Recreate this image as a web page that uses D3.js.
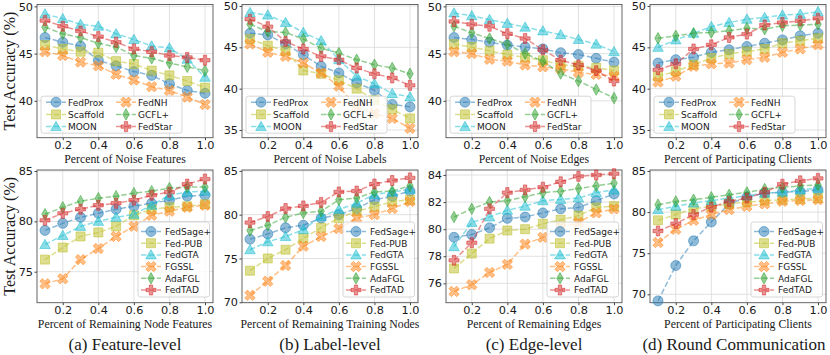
<!DOCTYPE html>
<html lang="en">
<head>
<meta charset="UTF-8" />
<title>Robustness curves</title>
<script src="https://d3js.org/d3.v7.js"></script>
<style>
  body { margin: 0; background: #fff; }
  svg { display: block; }
</style>
</head>
<body>
<svg id="chart" width="830" height="355"></svg>
<script>
// ---- data ----
const xVals = [0.1, 0.2, 0.3, 0.4, 0.5, 0.6, 0.7, 0.8, 0.9, 1.0];
const xTicks = [0.2, 0.4, 0.6, 0.8, 1.0];

const topMethods = ["FedProx", "Scaffold", "MOON", "FedNH", "GCFL+", "FedStar"];
const bottomMethods = ["FedSage+", "Fed-PUB", "FedGTA", "FGSSL", "AdaFGL", "FedTAD"];

// rows follow the method order above
const noiseFeatures = [
  [46.7, 46.2, 45.8, 44.3, 43.7, 43.1, 42.7, 41.8, 41.1, 40.8],
  [45.9, 45.5, 45.2, 45.1, 44.2, 43.9, 43.2, 42.7, 42.1, 41.4],
  [49.2, 48.7, 48.1, 47.9, 47.1, 46.5, 45.8, 45.6, 44.4, 42.5],
  [45.2, 44.8, 44.1, 43.7, 42.8, 42.2, 41.5, 41.1, 40.4, 39.6],
  [47.8, 47.1, 46.7, 46.1, 45.7, 44.8, 44.5, 44.0, 43.6, 43.2],
  [48.5, 47.9, 47.4, 46.8, 46.2, 45.5, 45.2, 44.8, 44.6, 44.3]
];
const noiseLabels = [
  [46.7, 46.5, 45.4, 44.1, 42.7, 41.9, 40.7, 39.8, 38.1, 37.8],
  [46.0, 45.2, 44.6, 42.2, 41.8, 41.0, 40.0, 38.6, 37.5, 36.4],
  [49.2, 48.9, 48.0, 46.8, 45.8, 43.5, 41.5, 40.6, 39.4, 39.0],
  [45.4, 44.4, 43.9, 43.1, 41.9, 40.3, 37.7, 37.0, 36.4, 35.2],
  [47.8, 46.9, 46.8, 46.0, 44.9, 44.3, 43.5, 42.9, 42.5, 41.8],
  [48.4, 47.5, 45.7, 44.8, 43.9, 43.5, 42.5, 41.8, 41.3, 40.4]
];
const noiseEdges = [
  [46.7, 46.5, 46.2, 45.9, 45.7, 45.5, 45.1, 44.9, 44.5, 44.1],
  [46.0, 45.7, 45.3, 44.9, 44.6, 44.3, 43.8, 43.7, 43.5, 43.2],
  [49.3, 49.0, 48.6, 48.2, 47.8, 47.4, 47.0, 46.5, 46.0, 45.2],
  [45.2, 45.0, 44.4, 44.2, 43.8, 43.6, 43.4, 43.0, 42.8, 42.6],
  [47.9, 47.2, 46.6, 46.0, 45.0, 44.2, 42.9, 42.1, 41.2, 40.3],
  [48.4, 48.1, 47.9, 47.1, 46.6, 45.4, 44.3, 43.8, 43.2, 42.1]
];
const noiseClients = [
  [43.1, 43.5, 43.8, 44.4, 44.7, 45.1, 45.5, 45.9, 46.4, 46.7],
  [41.5, 42.1, 42.9, 43.7, 44.2, 44.5, 44.8, 45.5, 45.8, 46.1],
  [45.0, 45.9, 46.7, 47.5, 48.0, 48.4, 48.6, 48.9, 49.0, 49.3],
  [40.8, 41.5, 42.7, 43.0, 43.1, 43.5, 43.8, 44.4, 44.8, 45.3],
  [46.1, 46.4, 46.7, 46.8, 47.0, 47.3, 47.2, 47.6, 47.7, 47.8],
  [42.3, 43.0, 44.8, 45.3, 46.2, 46.6, 47.7, 48.0, 48.2, 48.5]
];
const featureLevel = [
  [79.1, 79.8, 80.4, 80.8, 81.2, 81.5, 81.8, 82.1, 82.5, 82.6],
  [76.2, 77.4, 78.5, 78.9, 79.5, 80.6, 81.2, 81.4, 81.5, 81.7],
  [77.7, 78.6, 79.5, 80.0, 80.4, 80.7, 81.6, 82.6, 82.9, 83.0],
  [73.8, 74.3, 76.2, 77.3, 78.5, 79.5, 80.6, 81.0, 81.4, 81.6],
  [80.7, 81.4, 82.0, 82.3, 82.5, 82.8, 83.0, 83.3, 83.4, 83.4],
  [80.1, 80.8, 81.2, 81.6, 81.8, 82.1, 82.6, 82.9, 83.7, 84.2]
];
const labelLevel = [
  [77.2, 77.8, 78.5, 78.8, 79.6, 80.0, 80.7, 81.7, 82.1, 82.7],
  [73.6, 75.0, 76.0, 77.3, 78.5, 79.6, 80.4, 80.9, 81.5, 81.7],
  [76.0, 76.9, 77.5, 78.3, 79.8, 80.6, 81.3, 82.3, 82.6, 82.9],
  [70.8, 72.4, 74.2, 76.4, 77.5, 78.4, 79.6, 80.0, 80.7, 81.5],
  [78.2, 78.8, 79.7, 80.2, 80.4, 81.7, 81.9, 82.6, 82.7, 83.3],
  [79.1, 79.8, 80.7, 81.0, 81.4, 82.6, 82.7, 83.5, 83.9, 84.2]
];
const edgeLevel = [
  [79.4, 79.6, 80.1, 80.8, 80.9, 81.2, 81.5, 81.6, 82.1, 82.6],
  [77.1, 78.2, 79.3, 79.9, 80.0, 80.4, 80.7, 81.0, 81.6, 81.7],
  [78.7, 80.5, 80.9, 81.4, 81.7, 82.1, 82.2, 82.3, 82.7, 82.9],
  [75.4, 75.9, 76.8, 77.4, 78.9, 79.4, 80.1, 80.5, 81.2, 81.5],
  [80.9, 81.5, 82.0, 82.1, 82.4, 82.7, 82.8, 83.0, 83.2, 83.4],
  [77.7, 79.0, 81.5, 82.7, 82.9, 83.1, 83.5, 83.9, 84.0, 84.1]
];
const roundComm = [
  [69.2, 73.5, 76.5, 78.8, 81.0, 81.8, 82.3, 82.4, 82.5, 82.7],
  [79.0, 79.7, 80.4, 80.7, 81.0, 81.2, 81.4, 81.5, 81.6, 81.7],
  [80.3, 80.7, 81.1, 81.4, 81.7, 82.0, 82.3, 82.4, 82.7, 82.9],
  [76.3, 77.9, 79.0, 79.7, 80.3, 80.7, 81.0, 81.3, 81.4, 81.5],
  [80.9, 81.3, 81.5, 81.8, 82.1, 82.4, 82.8, 83.0, 83.2, 83.3],
  [77.7, 78.6, 79.7, 80.6, 81.3, 81.7, 82.4, 83.4, 83.8, 84.1]
];

const captions = ["(a) Feature-level", "(b) Label-level", "(c) Edge-level", "(d) Round Communication"];

// ---- styling ----
const colors = ["#1f77b4", "#bcbd22", "#17becf", "#ff7f0e", "#2ca02c", "#d62728"];
const markers = ["circle", "square", "triangle", "xfilled", "thindiamond", "plusfilled"];
const alpha = 0.5;
const ms = 10;

const svg = d3.select("#chart");

const colLeft = [37, 242, 446, 650];
const boxW = 176;
const rows = [{ top: 4.5, bottom: 137.7 }, { top: 170, bottom: 302.7 }];

const panels = [
  { row: 0, col: 0, data: noiseFeatures, yDom: [36.1, 50.2], yTicks: [40, 45, 50], xLabel: "Percent of Noise Features" },
  { row: 0, col: 1, data: noiseLabels, yDom: [34.07, 50.18], yTicks: [35, 40, 45, 50], xLabel: "Percent of Noise Labels" },
  { row: 0, col: 2, data: noiseEdges, yDom: [36.1, 50.2], yTicks: [40, 45, 50], xLabel: "Percent of Noise Edges" },
  { row: 0, col: 3, data: noiseClients, yDom: [34.07, 50.18], yTicks: [35, 40, 45, 50], xLabel: "Percent of Participating Clients" },
  { row: 1, col: 0, data: featureLevel, yDom: [71.92, 85.1], yTicks: [75, 80, 85], xLabel: "Percent of Remaining Node Features" },
  { row: 1, col: 1, data: labelLevel, yDom: [69.95, 85.1], yTicks: [70, 75, 80, 85], xLabel: "Percent of Remaining Training Nodes" },
  { row: 1, col: 2, data: edgeLevel, yDom: [74.57, 84.37], yTicks: [76, 78, 80, 82, 84], xLabel: "Percent of Remaining Edges" },
  { row: 1, col: 3, data: roundComm, yDom: [68.98, 85.12], yTicks: [70, 75, 80, 85], xLabel: "Percent of Participating Clients" }
];

// marker path around (0,0)
function markerPath(kind, s) {
  const h = s / 2;
  const p = d3.path();
  if (kind === "circle") {
    p.arc(0, 0, h, 0, 2 * Math.PI);
  } else if (kind === "square") {
    p.rect(-h * 0.9, -h * 0.9, s * 0.9, s * 0.9);
  } else if (kind === "triangle") {
    p.moveTo(0, -h * 1.05); p.lineTo(h * 1.05, h * 0.8); p.lineTo(-h * 1.05, h * 0.8); p.closePath();
  } else if (kind === "thindiamond") {
    p.moveTo(0, -h * 1.15); p.lineTo(h * 0.65, 0); p.lineTo(0, h * 1.15); p.lineTo(-h * 0.65, 0); p.closePath();
  } else {
    // filled plus, optionally rotated 45 deg for the filled x
    const a = s / 6;
    let pts = [[-a, -h], [a, -h], [a, -a], [h, -a], [h, a], [a, a], [a, h], [-a, h], [-a, a], [-h, a], [-h, -a], [-a, -a]];
    if (kind === "xfilled") {
      const c = Math.SQRT1_2;
      pts = pts.map(([x, y]) => [(x - y) * c * 1.1, (x + y) * c * 1.1]);
    }
    pts.forEach((pt, i) => i ? p.lineTo(pt[0], pt[1]) : p.moveTo(pt[0], pt[1]));
    p.closePath();
  }
  return p.toString();
}

function drawMarker(g, kind, color, x, y) {
  g.append("path")
    .attr("d", markerPath(kind, ms))
    .attr("transform", `translate(${x},${y})`)
    .attr("fill", color)
    .attr("fill-opacity", alpha)
    .attr("stroke", color)
    .attr("stroke-opacity", alpha)
    .attr("stroke-width", 1);
}

panels.forEach(pn => {
  const left = colLeft[pn.col];
  const { top, bottom } = rows[pn.row];
  const methods = pn.row === 0 ? topMethods : bottomMethods;

  const x = d3.scaleLinear().domain([0.055, 1.045]).range([left, left + boxW]);
  const y = d3.scaleLinear().domain(pn.yDom).range([bottom, top]);

  const g = svg.append("g");

  // grid
  g.selectAll(".gx").data(xTicks).enter().append("line")
    .attr("x1", d => x(d)).attr("x2", d => x(d))
    .attr("y1", top).attr("y2", bottom)
    .attr("stroke", "#d9d9d9").attr("stroke-width", 0.8);
  g.selectAll(".gy").data(pn.yTicks).enter().append("line")
    .attr("x1", left).attr("x2", left + boxW)
    .attr("y1", d => y(d)).attr("y2", d => y(d))
    .attr("stroke", "#d9d9d9").attr("stroke-width", 0.8);

  // axes
  const xAxis = d3.axisBottom(x).tickValues(xTicks).tickFormat(d3.format(".1f")).tickSize(2.5).tickPadding(1);
  const yAxis = d3.axisLeft(y).tickValues(pn.yTicks).tickFormat(d3.format("d")).tickSize(2.5).tickPadding(1.5);
  const ax = g.append("g").attr("transform", `translate(0,${bottom})`).call(xAxis);
  const ay = g.append("g").attr("transform", `translate(${left},0)`).call(yAxis);
  [ax, ay].forEach(a => {
    a.select(".domain").remove();
    a.selectAll("line").attr("stroke", "#444");
    a.selectAll("text").attr("fill", "#1a1a1a")
      .style("font-family", "'DejaVu Sans', sans-serif").style("font-size", "11.3px");
  });

  // frame
  g.append("rect")
    .attr("x", left).attr("y", top).attr("width", boxW).attr("height", bottom - top)
    .attr("fill", "none").attr("stroke", "#555").attr("stroke-width", 0.9);

  // series
  const line = d3.line().x((d, i) => x(xVals[i])).y(d => y(d));
  pn.data.forEach((vals, k) => {
    g.append("path")
      .attr("d", line(vals))
      .attr("fill", "none")
      .attr("stroke", colors[k])
      .attr("stroke-opacity", alpha)
      .attr("stroke-width", 1.5)
      .attr("stroke-dasharray", "5.5,2.4");
    vals.forEach((v, i) => drawMarker(g, markers[k], colors[k], x(xVals[i]), y(v)));
  });

  // legend
  const lg = g.append("g");
  const font = "'DejaVu Sans', sans-serif";
  if (pn.row === 0) {
    const L = left + 4, T = bottom - 41.5, W = 141, H = 37;
    lg.append("rect").attr("x", L).attr("y", T).attr("width", W).attr("height", H)
      .attr("rx", 2.5).attr("fill", "#fff").attr("fill-opacity", 0.8)
      .attr("stroke", "#cccccc").attr("stroke-width", 0.8);
    methods.forEach((m, k) => {
      const c = Math.floor(k / 3), r = k % 3;
      const mx = L + 15 + c * 70, my = T + 6 + r * 12.2;
      lg.append("line").attr("x1", mx - 10).attr("x2", mx + 10).attr("y1", my).attr("y2", my)
        .attr("stroke", colors[k]).attr("stroke-opacity", alpha).attr("stroke-width", 1.5)
        .attr("stroke-dasharray", "5.5,2.4");
      drawMarker(lg, markers[k], colors[k], mx, my);
      lg.append("text").attr("x", mx + 12).attr("y", my + 3.3).text(m)
        .style("font-family", font).style("font-size", "9px").attr("fill", "#1a1a1a");
    });
  } else {
    const L = left + boxW - 75, T = top + 52, W = 71.5, H = 75;
    lg.append("rect").attr("x", L).attr("y", T).attr("width", W).attr("height", H)
      .attr("rx", 2.5).attr("fill", "#fff").attr("fill-opacity", 0.8)
      .attr("stroke", "#cccccc").attr("stroke-width", 0.8);
    methods.forEach((m, k) => {
      const mx = L + 13, my = T + 9.5 + k * 11.7;
      lg.append("line").attr("x1", mx - 10).attr("x2", mx + 10).attr("y1", my).attr("y2", my)
        .attr("stroke", colors[k]).attr("stroke-opacity", alpha).attr("stroke-width", 1.5)
        .attr("stroke-dasharray", "5.5,2.4");
      drawMarker(lg, markers[k], colors[k], mx, my);
      lg.append("text").attr("x", mx + 14).attr("y", my + 3.3).text(m)
        .style("font-family", font).style("font-size", "9px").attr("fill", "#1a1a1a");
    });
  }

  // x label
  g.append("text")
    .attr("x", left + boxW / 2).attr("y", bottom + 25.5)
    .attr("text-anchor", "middle")
    .style("font-family", "'Liberation Serif', 'Times New Roman', serif").style("font-size", "11.8px")
    .attr("fill", "#1a1a1a")
    .text(pn.xLabel);

  if (pn.row === 1) {
    g.append("text")
      .attr("x", left + boxW / 2 + (pn.col === 3 ? -4 : 0)).attr("y", 350)
      .attr("text-anchor", "middle")
      .style("font-family", "'Liberation Serif', 'Times New Roman', serif").style("font-size", "17px")
      .attr("fill", "#1a1a1a")
      .text(captions[pn.col]);
  }
});

// shared y labels
rows.forEach(r => {
  svg.append("text")
    .attr("transform", `translate(15,${(r.top + r.bottom) / 2}) rotate(-90)`)
    .attr("text-anchor", "middle")
    .style("font-family", "'Liberation Serif', 'Times New Roman', serif").style("font-size", "16px")
    .attr("fill", "#1a1a1a")
    .text("Test Accuracy (%)");
});
</script>
</body>
</html>
